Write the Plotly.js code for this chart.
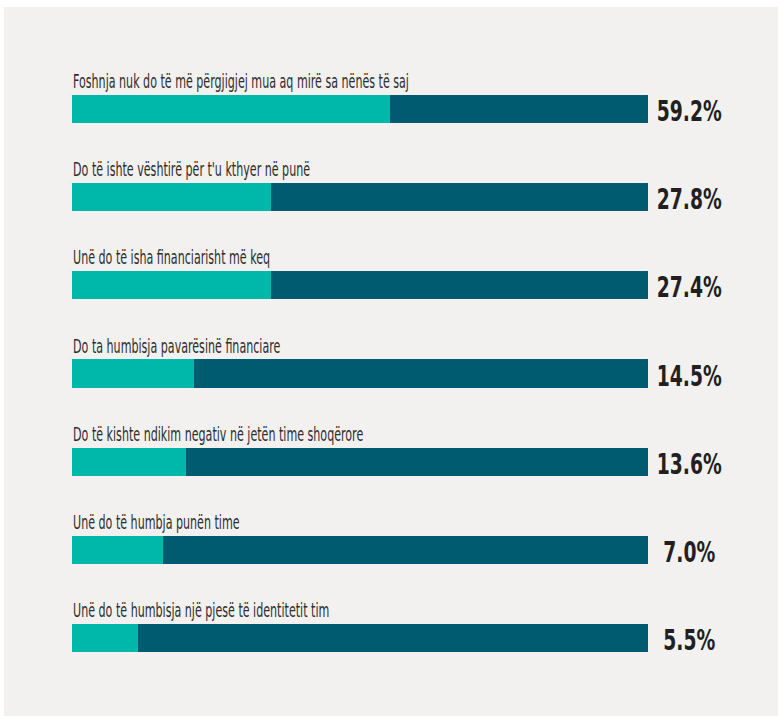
<!DOCTYPE html>
<html>
<head>
<meta charset="utf-8">
<script src="https://cdn.plot.ly/plotly-3.0.1.min.js"></script>
<style>
html,body{margin:0;padding:0;background:#ffffff;}
#chart{width:782px;height:718px;}
</style>
</head>
<body>
<div id="chart"></div>
<script>
// Category statements (top to bottom)
var categories = [
  "Foshnja nuk do të më përgjigjej mua aq mirë sa nënës të saj",
  "Do të ishte vështirë për t'u kthyer në punë",
  "Unë do të isha financiarisht më keq",
  "Do ta humbisja pavarësinë financiare",
  "Do të kishte ndikim negativ në jetën time shoqërore",
  "Unë do të humbja punën time",
  "Unë do të humbisja një pjesë të identitetit tim"
];
// Percentages printed at the right of each bar
var valueLabels = ["59.2%", "27.8%", "27.4%", "14.5%", "13.6%", "7.0%", "5.5%"];
// Light (teal) segment length as drawn, in % of the full bar
var tealShare = [55.2, 34.5, 34.5, 21.2, 19.8, 15.8, 11.5];
// Dark segment length as drawn, in % of the full bar
var darkShare = [44.8, 65.5, 65.5, 78.8, 80.2, 84.2, 88.5];

var positions = categories.map(function(_, i){ return i; });

var tealTrace = {
  type: 'bar', orientation: 'h',
  y: positions, x: tealShare,
  marker: {color: '#00b8aa', line: {width: 0}},
  width: 0.318, hoverinfo: 'skip'
};
var darkTrace = {
  type: 'bar', orientation: 'h',
  y: positions, x: darkShare,
  marker: {color: '#005a70', line: {width: 0}},
  width: 0.318, hoverinfo: 'skip'
};

var FONT = '"DejaVu Sans Condensed", "DejaVu Sans", sans-serif';
var annotations = [];
categories.forEach(function(c, i){
  annotations.push({
    x: 0, y: positions[i], xref: 'x', yref: 'y',
    text: c, showarrow: false, xanchor: 'left', yanchor: 'bottom',
    yshift: 15, xshift: -1,
    font: {family: FONT, size: 19, color: '#2e2e2e'}
  });
});
valueLabels.forEach(function(v, i){
  annotations.push({
    x: 1, y: positions[i], xref: 'paper', yref: 'y',
    text: '<b>' + v + '</b>', showarrow: false, xanchor: 'center', yanchor: 'middle',
    xshift: 41, yshift: -2,
    font: {family: FONT, size: 29, color: '#231f20'}
  });
});

var layout = {
  width: 782, height: 718,
  margin: {l: 72, r: 134, t: 65, b: 36, pad: 0},
  paper_bgcolor: '#ffffff',
  plot_bgcolor: 'rgba(0,0,0,0)',
  barmode: 'stack',
  showlegend: false,
  xaxis: {range: [0, 100], visible: false, fixedrange: true},
  yaxis: {range: [6.5, -0.5], visible: false, fixedrange: true},
  shapes: [{
    type: 'rect', xref: 'paper', yref: 'paper', layer: 'below',
    x0: -0.118, x1: 1.2257, y0: -0.0551, y1: 1.094,
    fillcolor: '#f2f1ef', line: {width: 0}
  }],
  annotations: annotations
};

Plotly.newPlot('chart', [tealTrace, darkTrace], layout, {displayModeBar: false, staticPlot: true}).then(function(gd){
  // condense the text horizontally to mimic the narrow display face of the original
  var texts = gd.querySelectorAll('.annotation-text');
  var nCat = categories.length;
  var catK = 1, valK = 1;
  if (texts.length >= nCat + 1) {
    var w0 = texts[0].getBBox().width;
    if (w0 > 0) catK = 336 / w0;
    var w1 = texts[nCat].getBBox().width;
    if (w1 > 0) valK = 65 / w1;
  }
  texts.forEach(function(t, i){
    var k = i < nCat ? catK : valK;
    t.style.transformBox = 'fill-box';
    t.style.transformOrigin = i < nCat ? 'left center' : 'center center';
    t.style.transform = 'scaleX(' + k.toFixed(4) + ')';
  });
});
</script>
</body>
</html>
